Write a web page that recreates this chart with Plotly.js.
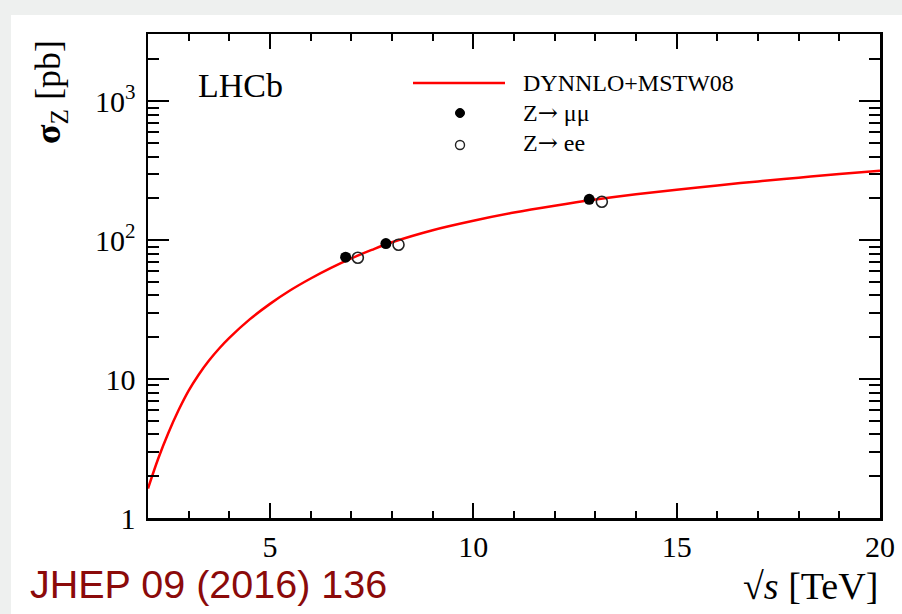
<!DOCTYPE html>
<html>
<head>
<meta charset="utf-8">
<script src="https://cdn.plot.ly/plotly-3.0.1.min.js"></script>
<style>
  html, body { margin:0; padding:0; width:902px; height:614px; background:#eef0ef; overflow:hidden; }
  #plot { position:absolute; left:11px; top:15px; width:891px; height:599px; background:#fff; }
</style>
</head>
<body>
<div id="plot"></div>
<script>
// Theory curve: DYNNLO+MSTW08
const theorySqrtS = [2, 2.25, 2.5, 2.75, 3, 3.25, 3.5, 3.75, 4, 4.5, 5, 5.5, 6, 6.5, 7, 7.5, 8, 9, 10, 11, 12, 13, 14, 15, 16, 17, 18, 19, 20];
const theorySigma = [1.63, 2.67, 4.09, 5.96, 8.26, 10.8, 13.6, 16.6, 19.8, 26.9, 34.8, 43.6, 53.0, 63.2, 74.0, 85.1, 96.6, 118, 138, 158, 177, 196, 214, 231, 248, 265, 282, 299, 316];

// Measurements (displayed slightly offset around 7, 8, 13 TeV)
const mumuSqrtS = [6.86, 7.85, 12.85];
const mumuSigma = [75.5, 94.5, 197];
const eeSqrtS = [7.16, 8.16, 13.16];
const eeSigma = [74.8, 92.8, 189];

// Axis ticks
const xTickVals = [5, 10, 15, 20];
const xTickText = ['5', '10', '15', '20'];
const yTickVals = [1, 10, 100, 1000];
const yTickText = ['1', '10', '10<sup>2</sup>', '10<sup>3</sup>'];
const yMinorVals = [2,3,4,5,6,7,8,9,20,30,40,50,60,70,80,90,200,300,400,500,600,700,800,900,2000,3000];

// Legend labels
const arrow = '<span style="font-family:DejaVu Serif">\u2192</span>';
const legendLabels = ['DYNNLO+MSTW08', 'Z' + arrow + ' \u03bc\u03bc', 'Z' + arrow + ' ee'];

const serif = 'Liberation Serif, Times New Roman, serif';

const traces = [
  {
    x: theorySqrtS, y: theorySigma, type: 'scatter', mode: 'lines',
    line: {color: '#ff0000', width: 2.5, shape: 'spline', smoothing: 1},
    name: 'DYNNLO+MSTW08', hoverinfo: 'skip'
  },
  {
    x: mumuSqrtS, y: mumuSigma, type: 'scatter', mode: 'markers',
    marker: {symbol: 'circle', size: 11, color: '#000'},
    name: 'Z to mumu'
  },
  {
    x: eeSqrtS, y: eeSigma, type: 'scatter', mode: 'markers',
    marker: {symbol: 'circle-open', size: 11, color: '#222', line: {width: 1.6, color: '#222'}},
    name: 'Z to ee'
  }
];

const P = (X) => (X - 148) / 732;
const Q = (Y) => (518 - Y) / 484;

const layout = {
  width: 891, height: 599,
  margin: {l: 137, r: 22, t: 19, b: 96},
  paper_bgcolor: '#ffffff', plot_bgcolor: '#ffffff',
  showlegend: false,
  font: {family: serif, color: '#000'},
  xaxis: {
    range: [2, 20], type: 'linear',
    tickvals: xTickVals, ticktext: xTickText,
    ticks: 'inside', ticklen: 15, tickwidth: 2, tickcolor: '#000',
    minor: {dtick: 1, ticks: 'inside', ticklen: 7, tickwidth: 2, tickcolor: '#000'},
    showline: true, linecolor: '#000', linewidth: 2.5, mirror: 'allticks',
    showgrid: false, zeroline: false,
    tickfont: {family: serif, size: 30, color: '#000'},
    ticklabelstandoff: 0
  },
  yaxis: {
    type: 'log', range: [0, Math.log10(3050)],
    tickvals: yTickVals, ticktext: yTickText,
    ticks: 'inside', ticklen: 21, tickwidth: 2, tickcolor: '#000',
    minor: {tickvals: yMinorVals, ticks: 'inside', ticklen: 11, tickwidth: 2, tickcolor: '#000', showgrid: false},
    showline: true, linecolor: '#000', linewidth: 2.5, mirror: 'allticks',
    showgrid: false, zeroline: false,
    tickfont: {family: serif, size: 30, color: '#000'},
    ticklabelstandoff: 4
  },
  shapes: [
    {type: 'line', xref: 'paper', yref: 'paper', x0: P(413), x1: P(505), y0: Q(83), y1: Q(83),
     line: {color: '#ff0000', width: 2.5}},
    {type: 'circle', xref: 'paper', yref: 'paper', xsizemode: 'pixel', ysizemode: 'pixel',
     xanchor: P(460), yanchor: Q(113), x0: -4.5, x1: 4.5, y0: -4.5, y1: 4.5,
     fillcolor: '#000', line: {color: '#000', width: 1}},
    {type: 'circle', xref: 'paper', yref: 'paper', xsizemode: 'pixel', ysizemode: 'pixel',
     xanchor: P(460), yanchor: Q(145), x0: -4.5, x1: 4.5, y0: -4.5, y1: 4.5,
     fillcolor: 'rgba(0,0,0,0)', line: {color: '#222', width: 1.4}}
  ],
  annotations: [
    {text: 'LHCb', xref: 'paper', yref: 'paper', x: P(240), y: Q(86), xanchor: 'center', yanchor: 'middle',
     showarrow: false, font: {family: serif, size: 34, color: '#000'}},
    {text: legendLabels[0], xref: 'paper', yref: 'paper', x: P(521), y: Q(83), xanchor: 'left', yanchor: 'middle',
     showarrow: false, font: {family: serif, size: 24, color: '#000'}},
    {text: legendLabels[1], xref: 'paper', yref: 'paper', x: P(521), y: Q(113), xanchor: 'left', yanchor: 'middle',
     showarrow: false, font: {family: serif, size: 24, color: '#000'}},
    {text: legendLabels[2], xref: 'paper', yref: 'paper', x: P(521), y: Q(143), xanchor: 'left', yanchor: 'middle',
     showarrow: false, font: {family: serif, size: 24, color: '#000'}},
    {text: '\u221a<i>s</i> [TeV]', xref: 'paper', yref: 'paper', x: 1, y: Q(586), xanchor: 'right', yanchor: 'middle',
     showarrow: false, font: {family: serif, size: 38, color: '#000'}},
    {text: '<b>\u03c3</b><sub>Z</sub> [pb]', xref: 'paper', yref: 'paper', x: P(50), y: Q(92), xanchor: 'center', yanchor: 'middle',
     textangle: -90, showarrow: false, font: {family: serif, size: 36, color: '#000'}},
    {text: 'JHEP 09 (2016) 136', xref: 'paper', yref: 'paper', x: P(28), y: Q(584), xanchor: 'left', yanchor: 'middle',
     showarrow: false, font: {family: 'Liberation Sans, Arial, sans-serif', size: 39.5, color: '#8b0a0a'}}
  ]
};

Plotly.newPlot('plot', traces, layout, {displayModeBar: false, staticPlot: true});
</script>
</body>
</html>
